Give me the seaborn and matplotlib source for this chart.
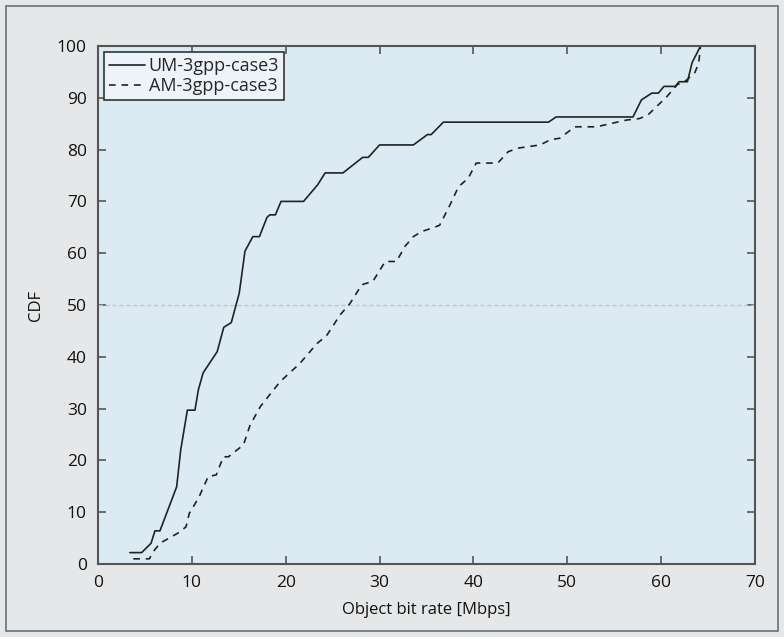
import numpy as np
import pandas as pd
import seaborn as sns
import matplotlib.pyplot as plt
from matplotlib.patches import Rectangle

# dados
um_rate = [3.4, 4.65, 5.65, 6.07, 6.6, 8.38, 8.81, 9.52, 10.33, 10.69, 11.2, 12.7, 13.4, 14.2,
           15.05, 15.66, 16.5, 17.2, 18.0, 18.3, 18.9, 19.5, 21.9, 23.4, 24.2, 26.1, 28.2, 28.8,
           30.0, 33.6, 35.1, 35.5, 36.8, 48.0, 48.8, 57.0, 57.9, 59.0, 59.7, 60.3, 61.5, 61.9,
           62.8, 63.3, 64.2]
um_cdf = [2.2, 2.2, 4.0, 6.4, 6.4, 14.9, 22.0, 29.7, 29.7, 33.6, 36.9, 41.0, 45.7, 46.6,
          52.3, 60.4, 63.2, 63.2, 66.9, 67.4, 67.4, 70.0, 70.0, 73.2, 75.5, 75.5, 78.5, 78.5,
          80.9, 80.9, 82.9, 82.9, 85.3, 85.3, 86.3, 86.3, 89.6, 90.9, 90.9, 92.2, 92.2, 93.1,
          93.1, 96.8, 100.0]

am_rate = [3.76, 5.47, 5.9, 6.6, 8.74, 9.38, 9.73, 10.7, 11.75, 12.6, 13.35, 13.9, 14.8, 15.5,
           16.2, 17.3, 19.4, 21.5, 23.3, 24.4, 25.8, 26.85, 28.1, 29.3, 30.6, 31.8, 32.7, 33.6,
           34.5, 35.7, 36.4, 37.5, 38.4, 39.45, 40.3, 42.6, 43.7, 44.8, 47.1, 48.2, 49.2, 50.8,
           53.1, 56.3, 57.7, 58.6, 59.5, 60.6, 61.7, 62.7, 63.6, 64.0, 64.2]
am_cdf = [1.0, 1.0, 2.4, 4.0, 6.2, 7.2, 9.8, 12.7, 16.9, 17.2, 20.7, 20.7, 22.0, 23.0,
          26.8, 30.4, 35.2, 38.7, 42.5, 44.2, 48.1, 50.3, 53.9, 54.6, 58.4, 58.4, 61.3, 63.2,
          64.2, 64.9, 65.4, 69.3, 72.8, 74.5, 77.4, 77.4, 79.6, 80.3, 80.9, 81.9, 82.2, 84.4,
          84.4, 85.7, 86.0, 86.7, 88.3, 90.2, 92.5, 93.4, 94.9, 96.7, 100.0]

x_ticks = [0, 10, 20, 30, 40, 50, 60, 70]
y_ticks = [0, 10, 20, 30, 40, 50, 60, 70, 80, 90, 100]

sns.set_style('ticks')
plt.rcParams['font.family'] = ['Open Sans', 'DejaVu Sans']

cor_fundo = '#e6e7e8'
cor_eixo = '#dceaf3'
cor_linha = '#222222'
cor_borda = '#555555'

fig = plt.figure(figsize=(7.84, 6.37), dpi=100, facecolor=cor_fundo)
fig.patches.append(Rectangle((6 / 784, 6 / 637), 772 / 784, 625 / 637, transform=fig.transFigure,
                             fill=False, edgecolor='#6d6e70', linewidth=1.2))
ax = fig.add_axes([98 / 784, 73 / 637, 657 / 784, 518 / 637])
ax.set_facecolor(cor_eixo)

ax.axhline(50, color='#c3c5c7', linestyle=(0, (3, 2)), linewidth=1.0, zorder=1)

sns.lineplot(x=um_rate, y=um_cdf, sort=False, estimator=None, ax=ax, color=cor_linha,
             linewidth=1.2, label='UM-3gpp-case3')
sns.lineplot(x=am_rate, y=am_cdf, sort=False, estimator=None, ax=ax, color=cor_linha,
             linewidth=1.2, linestyle=(0, (4, 3.5)), label='AM-3gpp-case3')

ax.set_xlim(0, 70)
ax.set_ylim(0, 100)
ax.set_xticks(x_ticks)
ax.set_yticks(y_ticks)
ax.tick_params(direction='in', length=6, width=1.2, color=cor_borda, labelsize=12.5,
               top=True, right=True, pad=8, labelcolor='#111111')
for s in ax.spines.values():
    s.set_color(cor_borda)
    s.set_linewidth(1.5)

ax.set_xlabel('Object bit rate [Mbps]', fontsize=12, labelpad=8, color='#111111')
ax.set_ylabel('CDF', fontsize=12, labelpad=9, color='#111111')

leg = ax.legend(loc='upper left', fancybox=False, frameon=True, fontsize=13,
                handlelength=2.0, handletextpad=0.2, borderpad=0.25, labelspacing=0.12,
                borderaxespad=0.35)
leg.get_frame().set_facecolor('#ecf3f9')
leg.get_frame().set_edgecolor('#333333')
leg.get_frame().set_alpha(1)
leg.get_frame().set_linewidth(1.2)

fig.savefig('out.png', dpi=100, facecolor=cor_fundo)
